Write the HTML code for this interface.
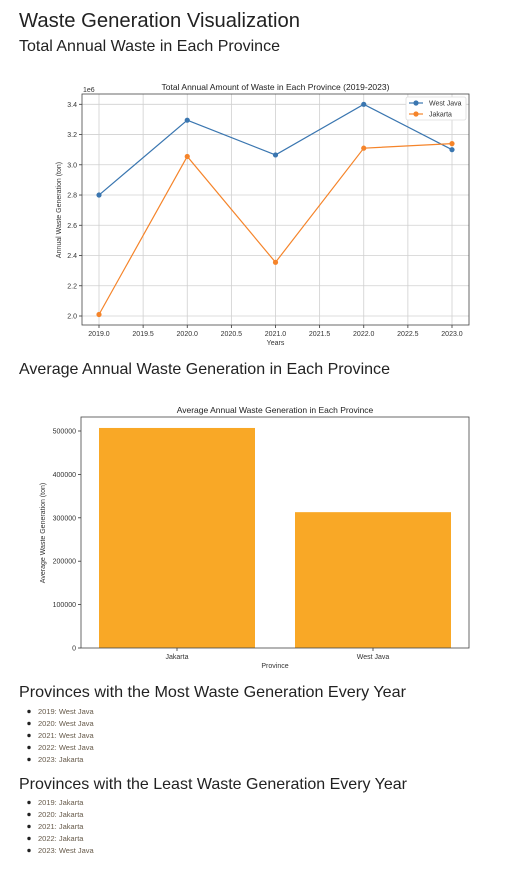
<!DOCTYPE html>
<html><head><meta charset="utf-8"><style>
html,body{margin:0;padding:0;background:#fff;width:506px;height:874px;overflow:hidden}
svg{display:block;font-family:"Liberation Sans","DejaVu Sans",sans-serif}
</style></head><body>
<svg id="page" width="506" height="874" viewBox="0 0 506 874">
<text x="19" y="27" font-size="20" fill="#222" textLength="281" lengthAdjust="spacingAndGlyphs">Waste Generation Visualization</text>
<text x="19" y="51" font-size="16" fill="#222" textLength="261" lengthAdjust="spacingAndGlyphs">Total Annual Waste in Each Province</text>
<text x="19" y="374" font-size="16" fill="#222" textLength="371" lengthAdjust="spacingAndGlyphs">Average Annual Waste Generation in Each Province</text>
<text x="19" y="697" font-size="16" fill="#222" textLength="387" lengthAdjust="spacingAndGlyphs">Provinces with the Most Waste Generation Every Year</text>
<text x="19" y="789" font-size="16" fill="#222" textLength="388" lengthAdjust="spacingAndGlyphs">Provinces with the Least Waste Generation Every Year</text>
<g id="line-chart"></g>
<g id="bar-chart"></g>
<g id="lists"></g>
</svg>
<script>
const years = [2019, 2020, 2021, 2022, 2023];
const westJava = [2.80e6, 3.295e6, 3.065e6, 3.40e6, 3.10e6];
const jakarta = [2.01e6, 3.055e6, 2.355e6, 3.11e6, 3.14e6];
const xTicks = [2019.0, 2019.5, 2020.0, 2020.5, 2021.0, 2021.5, 2022.0, 2022.5, 2023.0];
const yTicks = [2.0, 2.2, 2.4, 2.6, 2.8, 3.0, 3.2, 3.4];
const barCats = ["Jakarta", "West Java"];
const barVals = [507000, 313000];
const barTicks = [0, 100000, 200000, 300000, 400000, 500000];
const mostList = ["2019: West Java","2020: West Java","2021: West Java","2022: West Java","2023: Jakarta"];
const leastList = ["2019: Jakarta","2020: Jakarta","2021: Jakarta","2022: Jakarta","2023: West Java"];

const NS = "http://www.w3.org/2000/svg";
function mk(parent, tag, attrs, text) {
  const e = document.createElementNS(NS, tag);
  for (const k in attrs) e.setAttribute(k, attrs[k]);
  if (text !== undefined) e.textContent = text;
  parent.appendChild(e);
  return e;
}

// Line chart
const lc = document.getElementById('line-chart');
const L = {l:82, r:469, t:94, b:325};
const lx = v => 99 + (v - 2019) * (452 - 99) / 4;
const ly = v => 316 - (v / 1e6 - 2.0) * (316 - 104.3) / 1.4;
let t;
t = mk(lc, 'text', {x:275.5, y:90, 'font-size':8.5, 'text-anchor':'middle', fill:'#222'}, 'Total Annual Amount of Waste in Each Province (2019-2023)');


xTicks.forEach(v => {
  const x = lx(v);
  const g = mk(lc, 'line', {x1:x, x2:x, y1:L.t, y2:L.b, stroke:'#d0d0d0', 'stroke-width':0.8});
  
  
  mk(lc, 'line', {x1:x, x2:x, y1:L.b, y2:L.b+3, stroke:'#333', 'stroke-width':0.8});
  const tt = mk(lc, 'text', {x:x, y:L.b+11, 'font-size':7, 'text-anchor':'middle', fill:'#333'}, v.toFixed(1));
  
  
});
yTicks.forEach(v => {
  const y = ly(v * 1e6);
  const g = mk(lc, 'line', {x1:L.l, x2:L.r, y1:y, y2:y, stroke:'#d0d0d0', 'stroke-width':0.8});
  
  
  mk(lc, 'line', {x1:L.l-3, x2:L.l, y1:y, y2:y, stroke:'#333', 'stroke-width':0.8});
  const tt = mk(lc, 'text', {x:L.l-5, y:y+2.5, 'font-size':7, 'text-anchor':'end', fill:'#333'}, v.toFixed(1));
  
  
});
t = mk(lc, 'text', {x:83, y:92, 'font-size':7, fill:'#333'}, '1e6');


t = mk(lc, 'text', {x:275.5, y:345, 'font-size':7, 'text-anchor':'middle', fill:'#333'}, 'Years');


t = mk(lc, 'text', {x:0, y:0, 'font-size':7, 'text-anchor':'middle', fill:'#333', transform:'translate(61,210) rotate(-90)'}, 'Annual Waste Generation (ton)');


function series(vals, color, name) {
  const pts = vals.map((v,i) => lx(years[i]) + ',' + ly(v)).join(' ');
  const pl = mk(lc, 'polyline', {points:pts, fill:'none', stroke:color, 'stroke-width':1.2});
  
  
  vals.forEach((v,i) => {
    const c = mk(lc, 'circle', {cx:lx(years[i]), cy:ly(v), r:2.6, fill:color});
    
    
  });
}
series(westJava, '#3a76b0', 'west-java');
series(jakarta, '#f5842a', 'jakarta');
mk(lc, 'rect', {x:L.l, y:L.t, width:L.r-L.l, height:L.b-L.t, fill:'none', stroke:'#444', 'stroke-width':0.8});
const leg = mk(lc, 'g', {});


mk(leg, 'rect', {x:406, y:97, width:60, height:23, fill:'#fff', stroke:'#ddd', 'stroke-width':0.8, rx:2});
[['West Java','#3a76b0',103],['Jakarta','#f5842a',114]].forEach(([n,c,y]) => {
  const e = mk(leg, 'g', {});
  
  
  mk(e, 'line', {x1:409, x2:423, y1:y, y2:y, stroke:c, 'stroke-width':1.2});
  mk(e, 'circle', {cx:416, cy:y, r:2.6, fill:c});
  mk(e, 'text', {x:429, y:y+2.5, 'font-size':7, fill:'#333'}, n);
});

// Bar chart
const bc = document.getElementById('bar-chart');
const B = {l:81, r:469, t:417, b:648};
const by = v => 648 - v * (648 - 431) / 500000;
const bw = 156;
const bcx = i => 177 + i * 196;
t = mk(bc, 'text', {x:275, y:413, 'font-size':8.5, 'text-anchor':'middle', fill:'#222'}, 'Average Annual Waste Generation in Each Province');


barVals.forEach((v,i) => {
  const r = mk(bc, 'rect', {x:bcx(i)-bw/2, y:by(v), width:bw, height:648-by(v), fill:'#f9a826'});
  
  
  mk(bc, 'line', {x1:bcx(i), x2:bcx(i), y1:B.b, y2:B.b+3, stroke:'#333', 'stroke-width':0.8});
  const tt = mk(bc, 'text', {x:bcx(i), y:B.b+11, 'font-size':7, 'text-anchor':'middle', fill:'#333'}, barCats[i]);
  
  
});
barTicks.forEach(v => {
  const y = by(v);
  mk(bc, 'line', {x1:B.l-3, x2:B.l, y1:y, y2:y, stroke:'#333', 'stroke-width':0.8});
  const tt = mk(bc, 'text', {x:B.l-5, y:y+2.5, 'font-size':7, 'text-anchor':'end', fill:'#333'}, String(v));
  
  
});
mk(bc, 'rect', {x:B.l, y:B.t, width:B.r-B.l, height:B.b-B.t, fill:'none', stroke:'#444', 'stroke-width':0.8});
t = mk(bc, 'text', {x:275, y:668, 'font-size':7, 'text-anchor':'middle', fill:'#333'}, 'Province');


t = mk(bc, 'text', {x:0, y:0, 'font-size':7, 'text-anchor':'middle', fill:'#333', transform:'translate(45,533) rotate(-90)'}, 'Average Waste Generation (ton)');



// Lists
const ls = document.getElementById('lists');
function list(items, y0, name) {
  items.forEach((s,i) => {
    const y = y0 + i * 12;
    const g = mk(ls, 'g', {});
    
    
    mk(g, 'circle', {cx:29, cy:y-2.5, r:1.7, fill:'#222'});
    mk(g, 'text', {x:38, y:y, 'font-size':7.5, fill:'#665a4a'}, s);
  });
}
list(mostList, 714, 'most-waste');
list(leastList, 805, 'least-waste');
</script>
</body></html>
